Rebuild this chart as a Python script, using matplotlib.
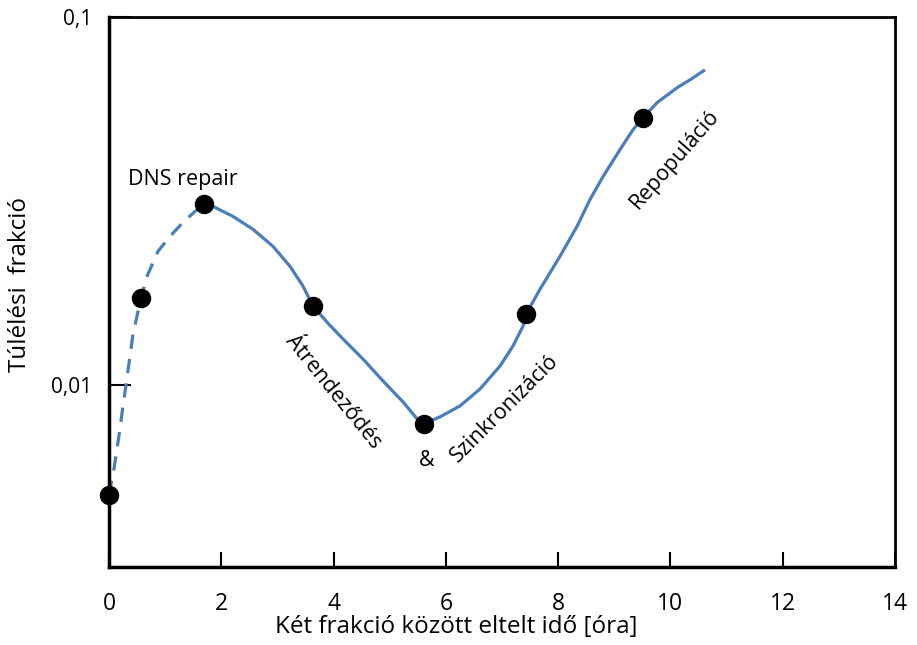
import matplotlib
matplotlib.use("Agg")
import matplotlib.pyplot as plt

plt.rcParams['font.family'] = ['Open Sans', 'DejaVu Sans']

# Measured dots (time [h], surviving fraction)
dot_x = [0.0, 0.570, 1.692, 3.634, 5.611, 7.428, 9.512]
dot_y = [0.00503, 0.01721, 0.03094, 0.01637, 0.00784, 0.01557, 0.05323]

# Dashed part of the curve
dash_x = [0.0, 0.089, 0.196, 0.249, 0.303, 0.428, 0.570, 0.677, 0.873,
          1.087, 1.318, 1.532, 1.692]
dash_y = [0.00503, 0.00592, 0.0076, 0.00877, 0.0100, 0.01375, 0.01721,
          0.01974, 0.02308, 0.02534, 0.02766, 0.02962, 0.03094]

# Solid part of the curve
solid_x = [1.692, 1.852, 2.209, 2.565, 2.921, 3.224, 3.456, 3.634, 3.883,
           4.168, 4.524, 4.881, 5.237, 5.486, 5.611, 5.896, 6.252, 6.609,
           6.965, 7.196, 7.374, 7.428, 7.677, 8.033, 8.336, 8.568, 8.800,
           9.102, 9.334, 9.512, 9.761, 10.118, 10.349, 10.616]
solid_y = [0.03094, 0.03056, 0.02871, 0.02648, 0.0238, 0.02101, 0.01855,
           0.01637, 0.01481, 0.01333, 0.01176, 0.01025, 0.00899, 0.00809,
           0.00784, 0.00819, 0.00877, 0.00975, 0.01126, 0.01276, 0.01445,
           0.01557, 0.0182, 0.02237, 0.02697, 0.03192, 0.03685, 0.04361,
           0.0494, 0.05323, 0.05847, 0.06423, 0.0675, 0.07183]

x_ticks = [0, 2, 4, 6, 8, 10, 12, 14]
x_tick_labels = ['0', '2', '4', '6', '8', '10', '12', '14']
y_ticks = [0.01, 0.1]
y_tick_labels = ['0,01', '0,1']

x_label = 'Két frakció között eltelt idő [óra]'
y_label = 'Túlélési  frakció'

blue = '#4a7ebb'

W, H = 917, 645
fig = plt.figure(figsize=(W / 100, H / 100), dpi=100)
ax = fig.add_axes([109 / W, 1 - 567 / H, (895 - 109) / W, (567 - 17) / H])

ax.plot(dash_x, dash_y, color=blue, lw=2.3, dashes=(4.5, 3.2), zorder=2,
        clip_on=False)
ax.plot(solid_x, solid_y, color=blue, lw=2.3, zorder=2, clip_on=False,
        solid_capstyle='butt', solid_joinstyle='round')
ax.plot(dot_x, dot_y, 'o', color='black', ms=13, zorder=3, clip_on=False)

ax.set_yscale('log')
ax.set_xlim(0, 14)
ax.set_ylim(0.0032, 0.1)

ax.set_xticks(x_ticks)
ax.set_xticklabels(x_tick_labels)
ax.set_yticks(y_ticks)
ax.set_yticklabels(y_tick_labels)
ax.minorticks_off()
ax.tick_params(axis='x', direction='in', length=11, width=1.5, pad=18,
               labelsize=16.5)
ax.tick_params(axis='y', direction='in', length=16, width=1.5, pad=12,
               labelsize=15)

for side in ['left', 'bottom']:
    ax.spines[side].set_linewidth(2.5)
for side in ['top', 'right']:
    ax.spines[side].set_linewidth(2.0)

fig.text(456 / W, 1 - 627 / H, x_label, fontsize=17.5, ha='center',
         va='center')
fig.text(20 / W, 1 - 285 / H, y_label, fontsize=17.5, ha='center',
         va='center', rotation=90)

ax.text(1.32, 0.0361, 'DNS repair', fontsize=15.5, ha='center', va='center')
ax.text(3.99, 0.00957, 'Átrendeződés', fontsize=15.5, ha='center',
        va='center', rotation=-51, rotation_mode='anchor')
ax.text(5.66, 0.00622, '&', fontsize=15.5, ha='center', va='center')
ax.text(7.05, 0.00861, 'Szinkronizáció', fontsize=15.5, ha='center',
        va='center', rotation=45, rotation_mode='anchor')
ax.text(10.08, 0.0410, 'Repopuláció', fontsize=15.5, ha='center',
        va='center', rotation=49, rotation_mode='anchor')

fig.savefig('out.png', dpi=100)
